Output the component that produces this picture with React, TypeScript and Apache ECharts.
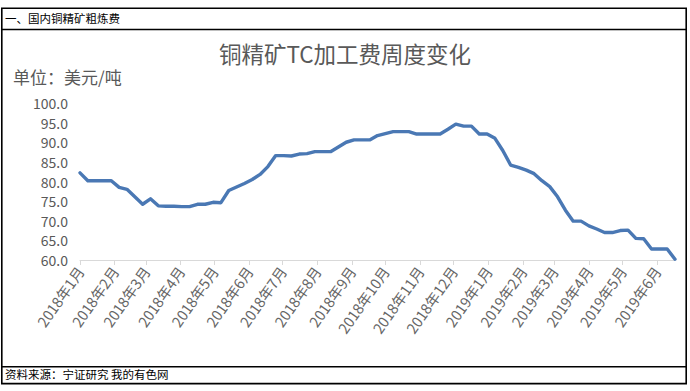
import React, { useEffect, useRef } from "react";
import * as echarts from "echarts";

const headerText = "一、国内铜精矿粗炼费";
const footerText = "资料来源：宁证研究 我的有色网";
const chartTitle = "铜精矿TC加工费周度变化";
const unitText = "单位：美元/吨";

const weekDates = [
  "2018-01-05", "2018-01-12", "2018-01-19", "2018-01-26",
  "2018-02-02", "2018-02-09", "2018-02-16", "2018-02-23",
  "2018-03-02", "2018-03-09", "2018-03-16", "2018-03-23", "2018-03-30",
  "2018-04-06", "2018-04-13", "2018-04-20", "2018-04-27",
  "2018-05-04", "2018-05-11", "2018-05-18", "2018-05-25",
  "2018-06-01", "2018-06-08", "2018-06-15", "2018-06-22", "2018-06-29",
  "2018-07-06", "2018-07-13", "2018-07-20", "2018-07-27",
  "2018-08-03", "2018-08-10", "2018-08-17", "2018-08-24", "2018-08-31",
  "2018-09-07", "2018-09-14", "2018-09-21", "2018-09-28",
  "2018-10-05", "2018-10-12", "2018-10-19", "2018-10-26",
  "2018-11-02", "2018-11-09", "2018-11-16", "2018-11-23", "2018-11-30",
  "2018-12-07", "2018-12-14", "2018-12-21", "2018-12-28",
  "2019-01-04", "2019-01-11", "2019-01-18", "2019-01-25",
  "2019-02-01", "2019-02-08", "2019-02-15", "2019-02-22",
  "2019-03-01", "2019-03-08", "2019-03-15", "2019-03-22", "2019-03-29",
  "2019-04-05", "2019-04-12", "2019-04-19", "2019-04-26",
  "2019-05-03", "2019-05-10", "2019-05-17", "2019-05-24", "2019-05-31",
  "2019-06-07", "2019-06-14", "2019-06-21",
];

const tcValues = [
  82.2, 80.2, 80.2, 80.2, 80.2, 78.5, 78.0, 76.1,
  74.2, 75.6, 73.8, 73.7, 73.7,
  73.6, 73.6, 74.2, 74.2,
  74.7, 74.6, 77.7, 78.6,
  79.5, 80.5, 81.8, 83.8, 86.6,
  86.6, 86.5, 87.0, 87.1,
  87.6, 87.6, 87.6, 88.8, 90.0,
  90.6, 90.6, 90.6, 91.7,
  92.2, 92.7, 92.7, 92.7,
  92.1, 92.1, 92.1, 92.1, 93.3,
  94.6, 94.1, 94.1, 92.1,
  92.1, 91.0, 87.9, 84.2,
  83.6, 82.9, 82.0, 80.2,
  78.7, 76.1, 72.7, 69.9, 69.9,
  68.7, 67.9, 67.0, 67.0,
  67.5, 67.6, 65.5, 65.4, 62.8,
  62.8, 62.8, 60.2,
];

const monthTicks = [
  "2018-01-05", "2018-02-05", "2018-03-05", "2018-04-05", "2018-05-05", "2018-06-05",
  "2018-07-05", "2018-08-05", "2018-09-05", "2018-10-05", "2018-11-05", "2018-12-05",
  "2019-01-05", "2019-02-05", "2019-03-05", "2019-04-05", "2019-05-05", "2019-06-05",
];
const monthLabels = [
  "2018年1月", "2018年2月", "2018年3月", "2018年4月", "2018年5月", "2018年6月",
  "2018年7月", "2018年8月", "2018年9月", "2018年10月", "2018年11月", "2018年12月",
  "2019年1月", "2019年2月", "2019年3月", "2019年4月", "2019年5月", "2019年6月",
];

const yMin = 60;
const yMax = 100;
const yStep = 5;

export default function App() {
  const ref = useRef<HTMLDivElement>(null);
  useEffect(() => {
    if (!ref.current) return;
    const chart = echarts.init(ref.current, null, { renderer: "svg" });
    const tickTimes = monthTicks.map((d) => Date.parse(d));
    const data = weekDates.map((d, i) => [Date.parse(d), tcValues[i]]);
    const textGray = "#595959";
    const font = '"Noto Sans CJK SC", "Microsoft YaHei", sans-serif';
    chart.setOption({
      animation: false,
      backgroundColor: "#ffffff",
      textStyle: { fontFamily: font },
      grid: { left: 80, right: 15, top: 103, bottom: 131, containLabel: false },
      xAxis: {
        type: "value",
        min: Date.parse(weekDates[0]),
        max: Date.parse(weekDates[weekDates.length - 1]),
        splitLine: { show: false },
        axisLine: { show: true, lineStyle: { color: "#d9d9d9", width: 1 } },
        axisTick: {
          show: true,
          customValues: tickTimes,
          length: 5,
          lineStyle: { color: "#d9d9d9" },
        },
        axisLabel: {
          customValues: tickTimes,
          rotate: 55,
          margin: 8,
          fontSize: 14.5,
          color: "#666666",
          fontFamily: font,
          formatter: (v: number) => {
            const idx = tickTimes.indexOf(v);
            return idx >= 0 ? monthLabels[idx] : "";
          },
        },
      },
      yAxis: {
        type: "value",
        min: yMin,
        max: yMax,
        interval: yStep,
        splitLine: { show: false },
        axisLine: { show: false },
        axisTick: { show: false },
        axisLabel: {
          margin: 12,
          fontSize: 14,
          color: textGray,
          fontFamily: font,
          formatter: (v: number) => v.toFixed(1),
        },
      },
      series: [
        {
          type: "line",
          data,
          showSymbol: false,
          symbol: "none",
          lineStyle: { color: "#4a78b4", width: 3.4, join: "round", cap: "round" },
        },
      ],
      graphic: [
        {
          type: "rect",
          shape: { x: 1.8, y: 8.2, width: 684.4, height: 375.4 },
          style: { fill: "none", stroke: "#000", lineWidth: 1.6 },
          silent: true,
        },
        {
          type: "line",
          shape: { x1: 1.8, y1: 29.5, x2: 686.2, y2: 29.5 },
          style: { stroke: "#000", lineWidth: 1.6 },
          silent: true,
        },
        {
          type: "line",
          shape: { x1: 1.8, y1: 366.8, x2: 686.2, y2: 366.8 },
          style: { stroke: "#000", lineWidth: 1.6 },
          silent: true,
        },
        {
          type: "text",
          left: 5,
          top: 12,
          style: { text: headerText, fill: "#000", font: `11.5px ${font}` },
        },
        {
          type: "text",
          left: 5,
          top: 368,
          style: { text: footerText, fill: "#000", font: `11.5px ${font}` },
        },
        {
          type: "text",
          left: "center",
          top: 42,
          style: { text: chartTitle, fill: textGray, font: `22.5px ${font}` },
        },
        {
          type: "text",
          left: 13,
          top: 68,
          style: { text: unitText, fill: textGray, font: `17px ${font}` },
        },
      ],
    });
    return () => chart.dispose();
  }, []);
  return (
    <div style={{ position: "absolute", left: 0, top: 0, width: 690, height: 391 }}>
      <div ref={ref} style={{ width: 690, height: 391 }} />
    </div>
  );
}
